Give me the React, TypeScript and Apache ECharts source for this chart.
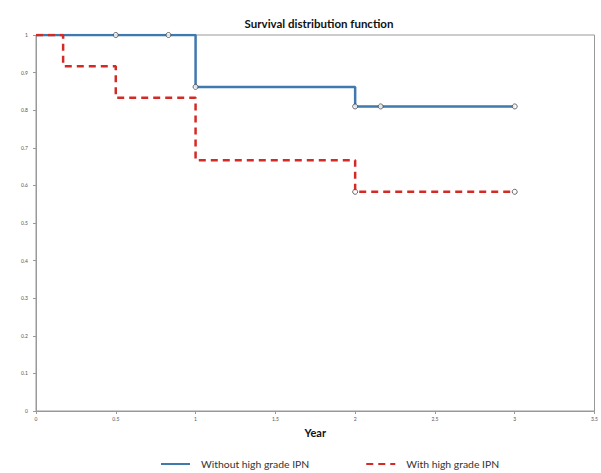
import React, { useEffect, useRef } from "react";
import * as echarts from "echarts";

const title = "Survival distribution function";
const xName = "Year";
const seriesNames = ["Without high grade IPN", "With high grade IPN"];

const blueTimes = [0, 1, 2, 3];
const blueSurv = [1, 0.862, 0.81, 0.81];
const redTimes = [0, 0.17, 0.5, 1, 2, 3];
const redSurv = [1, 0.917, 0.833, 0.667, 0.583, 0.583];

const blueCensorTimes = [0.5, 0.83, 1, 2, 2.16, 3];
const blueCensorSurv = [1, 1, 0.862, 0.81, 0.81, 0.81];
const redCensorTimes = [2, 3];
const redCensorSurv = [0.583, 0.583];

const xTicks = [0, 0.5, 1, 1.5, 2, 2.5, 3, 3.5];
const yTicks = [0, 0.1, 0.2, 0.3, 0.4, 0.5, 0.6, 0.7, 0.8, 0.9, 1];

const BLUE = "#3f79ad";
const RED = "#d42a26";
const FONT = "Lato, 'Open Sans', sans-serif";

const zip = (a: number[], b: number[]) => a.map((v, i) => [v, b[i]]);

export default function App() {
  const ref = useRef<HTMLDivElement>(null);
  useEffect(() => {
    if (!ref.current) return;
    const chart = echarts.init(ref.current, undefined, { renderer: "svg" });
    chart.setOption({
      animation: false,
      backgroundColor: "#fff",
      title: {
        text: title,
        left: 314,
        textAlign: "center",
        top: 12,
        textStyle: { fontFamily: FONT, fontSize: 11.5, fontWeight: "bold", color: "#111" },
      },
      grid: {
        left: 36,
        right: 5,
        top: 35,
        bottom: 62,
        show: true,
        borderColor: "#999",
        borderWidth: 1,
      },
      legend: {
        left: 160,
        top: 459,
        padding: 0,
        itemWidth: 29,
        itemHeight: 4,
        itemGap: 56,
        itemStyle: { opacity: 0 },
        data: seriesNames,
        textStyle: { fontFamily: FONT, fontSize: 10.4, color: "#333", padding: [0, 0, 0, 6] },
      },
      xAxis: {
        type: "value",
        min: xTicks[0],
        max: xTicks[xTicks.length - 1],
        interval: 0.5,
        name: xName,
        nameLocation: "middle",
        nameGap: 16,
        nameTextStyle: { fontFamily: FONT, fontSize: 11, fontWeight: "bold", color: "#111" },
        axisLine: { lineStyle: { color: "#999" } },
        axisTick: { show: true, length: 3, lineStyle: { color: "#999" } },
        axisLabel: { fontSize: 5, color: "#555", margin: 5, fontFamily: FONT },
        splitLine: { show: false },
      },
      yAxis: {
        type: "value",
        min: yTicks[0],
        max: yTicks[yTicks.length - 1],
        interval: 0.1,
        axisLine: { show: true, lineStyle: { color: "#999" } },
        axisTick: { show: true, length: 3, lineStyle: { color: "#999" } },
        axisLabel: { fontSize: 5, color: "#555", margin: 8, fontFamily: FONT },
        splitLine: { show: false },
      },
      series: [
        {
          name: seriesNames[0],
          type: "line",
          step: "end",
          symbol: "none",
          data: zip(blueTimes, blueSurv),
          itemStyle: { color: BLUE },
          lineStyle: { color: BLUE, width: 2.5 },
          z: 2,
        },
        {
          name: seriesNames[1],
          type: "line",
          step: "end",
          symbol: "none",
          data: zip(redTimes, redSurv),
          itemStyle: { color: RED },
          lineStyle: { color: RED, width: 2.5, type: [7, 5] },
          z: 3,
        },
        {
          name: "blue-censor",
          type: "scatter",
          symbol: "circle",
          symbolSize: 5,
          data: zip(blueCensorTimes, blueCensorSurv),
          itemStyle: { color: "#fff", borderColor: "#444", borderWidth: 1 },
          z: 5,
        },
        {
          name: "red-censor",
          type: "scatter",
          symbol: "circle",
          symbolSize: 5,
          data: zip(redCensorTimes, redCensorSurv),
          itemStyle: { color: "#fff", borderColor: "#444", borderWidth: 1 },
          z: 5,
        },
      ],
    });
    return () => chart.dispose();
  }, []);
  return <div ref={ref} style={{ width: 601, height: 473, position: "absolute", left: 0, top: 0 }} />;
}
